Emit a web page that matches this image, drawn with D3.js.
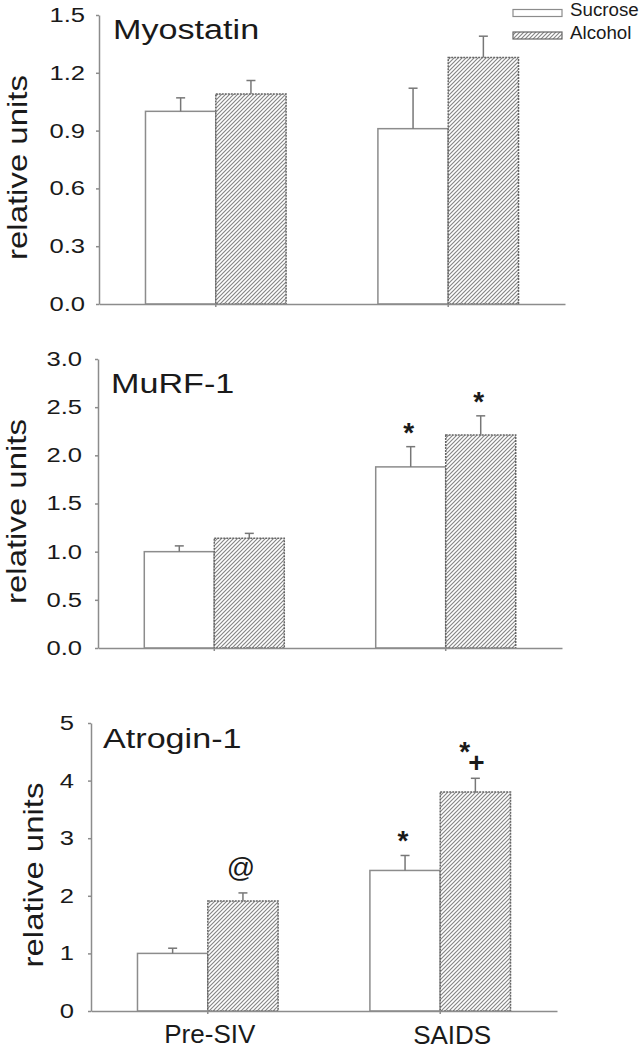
<!DOCTYPE html>
<html>
<head>
<meta charset="utf-8">
<script src="https://cdn.jsdelivr.net/npm/d3@7"></script>
<style>
  body { margin: 0; background: #fff; }
  text { font-family: "Liberation Sans", Arial, sans-serif; fill: #1a1a1a; }
</style>
</head>
<body>
<svg id="chart" width="643" height="1050"></svg>
<script>
// groups on the x axis and the two treatments
var groups = ["Pre-SIV", "SAIDS"]
var treatments = ["Sucrose", "Alcohol"]

// means and error (upper SEM), indexed [group][treatment]
var myostatin = [[1.00, 1.09], [0.91, 1.28]]
var myostatinErr = [[0.07, 0.07], [0.21, 0.11]]
var murf = [[1.00, 1.14], [1.88, 2.21]]
var murfErr = [[0.06, 0.05], [0.21, 0.20]]
var atrogin = [[1.00, 1.91], [2.44, 3.80]]
var atroginErr = [[0.09, 0.14], [0.26, 0.24]]

// y tick values
var myostatinTicks = [0, 0.3, 0.6, 0.9, 1.2, 1.5]
var murfTicks = [0, 0.5, 1.0, 1.5, 2.0, 2.5, 3.0]
var atroginTicks = [0, 1, 2, 3, 4, 5]

// significance marks: [group, treatment, label]
var myostatinMarks = []
var murfMarks = [[1, 0, "*"], [1, 1, "*"]]
var atroginMarks = [[0, 1, "@"], [1, 0, "*"], [1, 1, "*+"]]

// panel layout (pixel positions only)
var panels = [
  {title: "Myostatin", means: myostatin, errs: myostatinErr, ticks: myostatinTicks, marks: myostatinMarks,
   fmt: ".1f", top: 15, bottom: 304, left: 99, right: 565, titleX: 113, titleY: 39, labelX: 27, tickPad: 14},
  {title: "MuRF-1", means: murf, errs: murfErr, ticks: murfTicks, marks: murfMarks,
   fmt: ".1f", top: 359, bottom: 648, left: 98, right: 562, titleX: 111, titleY: 393, labelX: 26, tickPad: 16},
  {title: "Atrogin-1", means: atrogin, errs: atroginErr, ticks: atroginTicks, marks: atroginMarks,
   fmt: "d", top: 723, bottom: 1011, left: 91, right: 557, titleX: 103, titleY: 748, labelX: 43, tickPad: 17}
]

var svg = d3.select("#chart")

// hatch pattern for alcohol bars
var defs = svg.append("defs")
var pat = defs.append("pattern")
    .attr("id", "hatch")
    .attr("patternUnits", "userSpaceOnUse")
    .attr("width", 4)
    .attr("height", 4)
pat.append("rect").attr("width", 4).attr("height", 4).attr("fill", "#fff")
pat.append("path")
    .attr("d", "M-1,1 l2,-2 M0,4 l4,-4 M3,5 l2,-2")
    .attr("stroke", "#858585")
    .attr("stroke-width", 1.15)

var fills = ["#fff", "url(#hatch)"]
var strokes = ["#8c8c8c", "#666"]

panels.forEach(function(p, pi) {
  var x0 = d3.scaleBand()
      .domain(groups)
      .range([p.left, p.right])
      .paddingInner(0.395)
      .paddingOuter(0.2)

  var x1 = d3.scaleBand()
      .domain(treatments)
      .range([0, x0.bandwidth()])

  var y = d3.scaleLinear()
      .domain([0, d3.max(p.ticks)])
      .range([p.bottom, p.top])

  var g = svg.append("g")

  // bars
  groups.forEach(function(grp, gi) {
    treatments.forEach(function(tr, ti) {
      var bx = x0(grp) + x1(tr)
      var v = p.means[gi][ti]
      g.append("rect")
          .attr("x", bx)
          .attr("y", y(v))
          .attr("width", x1.bandwidth())
          .attr("height", y(0) - y(v))
          .attr("fill", fills[ti])
          .attr("stroke", strokes[ti])
          .attr("stroke-width", 1.5)
          .attr("stroke-dasharray", ti == 1 ? "2,1" : null)

      // error bar
      var cx = bx + x1.bandwidth() / 2
      var top = y(v + p.errs[gi][ti])
      g.append("line")
          .attr("x1", cx).attr("x2", cx)
          .attr("y1", y(v)).attr("y2", top)
          .attr("stroke", "#777").attr("stroke-width", 1.5)
      g.append("line")
          .attr("x1", cx - 4.5).attr("x2", cx + 4.5)
          .attr("y1", top).attr("y2", top)
          .attr("stroke", "#777").attr("stroke-width", 1.5)
    })
  })

  // significance marks
  p.marks.forEach(function(m) {
    var gi = m[0], ti = m[1], lab = m[2]
    var cx = x0(groups[gi]) + x1(treatments[ti]) + x1.bandwidth() / 2
    var top = y(p.means[gi][ti] + p.errs[gi][ti])
    if (lab == "@") {
      g.append("text")
          .attr("x", cx - 2).attr("y", top - 16)
          .attr("text-anchor", "middle")
          .style("font-size", "28px")
          .text("@")
    } else if (lab == "*+") {
      var t = g.append("text")
          .attr("x", cx - 16).attr("y", top - 17)
          .style("font-size", "28px")
          .style("font-weight", "bold")
      t.append("tspan").text("*")
      t.append("tspan").attr("dy", 11).attr("dx", -2).style("font-size", "28px").text("+")
    } else {
      g.append("text")
          .attr("x", cx - 2).attr("y", top - 5)
          .attr("text-anchor", "middle")
          .style("font-size", "28px")
          .style("font-weight", "bold")
          .text("*")
    }
  })

  // y axis
  var yAxis = g.append("g")
      .attr("transform", "translate(" + p.left + ",0)")
      .call(d3.axisLeft(y).tickValues(p.ticks).tickSize(3).tickSizeOuter(0).tickFormat(d3.format(p.fmt)))
  yAxis.select(".domain").attr("stroke", "#8c8c8c").attr("stroke-width", 1.5)
  yAxis.selectAll(".tick line").attr("stroke", "#8c8c8c").attr("stroke-width", 1.5)
  yAxis.selectAll(".tick text")
      .attr("x", null)
      .attr("transform", "translate(" + (-p.tickPad) + ",0) scale(1.28,1)")
      .attr("fill", "#1a1a1a")
      .style("font-size", "20px")
      .style("font-family", "'Liberation Sans', Arial, sans-serif")

  // x axis
  var xAxis = g.append("g")
      .attr("transform", "translate(0," + p.bottom + ")")
      .call(d3.axisBottom(x0).tickSize(3).tickSizeOuter(0).tickFormat(""))
  xAxis.select(".domain").attr("stroke", "#8c8c8c").attr("stroke-width", 1.5)
  xAxis.selectAll(".tick line").attr("stroke", "#8c8c8c").attr("stroke-width", 1.5)

  // panel title
  g.append("text")
      .attr("transform", "translate(" + p.titleX + "," + p.titleY + ") scale(1.22,1)")
      .style("font-size", "28px")
      .text(p.title)

  // y label
  g.append("text")
      .attr("transform", "translate(" + p.labelX + "," + ((p.top + p.bottom) / 2 + 8) + ") rotate(-90) scale(1.22,1)")
      .attr("text-anchor", "middle")
      .style("font-size", "27px")
      .text("relative units")

  // category labels on the last panel
  if (pi == panels.length - 1) {
    var shift = [2, 12]
    var base = [1043, 1044]
    groups.forEach(function(grp, gi) {
      g.append("text")
          .attr("x", x0(grp) + x0.bandwidth() / 2 + shift[gi])
          .attr("y", base[gi])
          .attr("text-anchor", "middle")
          .style("font-size", "26px")
          .text(grp)
    })
  }
})

// legend
var legend = svg.append("g")
treatments.forEach(function(tr, ti) {
  legend.append("rect")
      .attr("x", 513).attr("y", 9.5 + ti * 22.5)
      .attr("width", 49).attr("height", 7)
      .attr("fill", fills[ti])
      .attr("stroke", strokes[ti])
      .attr("stroke-width", 1.2)
  legend.append("text")
      .attr("transform", "translate(570," + (16 + ti * 23) + ") scale(1.04,1)")
      .style("font-size", "18px")
      .text(tr)
})
</script>
</body>
</html>
